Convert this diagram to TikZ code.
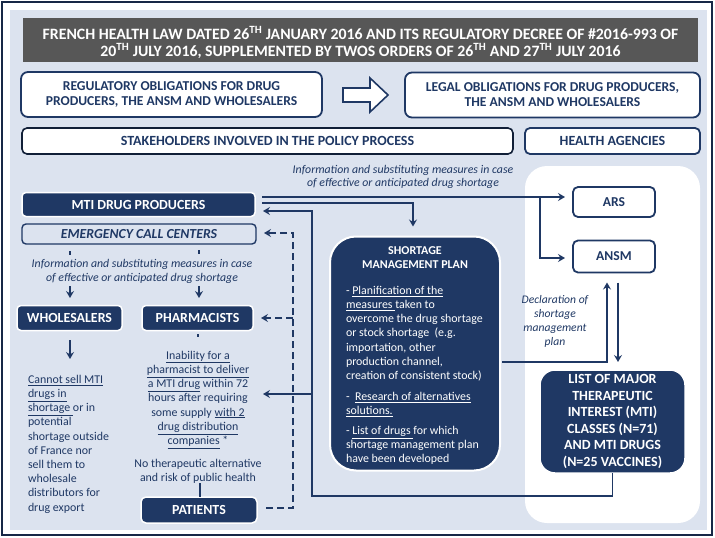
\documentclass[tikz,border=0pt]{standalone}
\usepackage{fontspec}
\setmainfont{Carlito}
\usetikzlibrary{arrows.meta,calc}
\definecolor{navy}{HTML}{1F3864}
\definecolor{bgc}{HTML}{DCE3EF}
\definecolor{tgray}{HTML}{575757}
\newcommand\myfs[2]{\fontsize{#1}{#2}\selectfont}
\begin{document}
\begin{tikzpicture}[x=1pt,y=-1pt,
  every node/.style={inner sep=0pt, outer sep=0pt},
  hdr/.style={font=\bfseries\myfs{13.6}{15}, text=navy, align=center},
  outbox/.style={draw=navy, fill=white, line width=1.8pt, rounded corners=7pt},
  darkbox/.style={fill=navy, draw=white, line width=1.5pt, rounded corners=4pt, text=white, font=\bfseries\myfs{13.9}{14}},
  conn/.style={draw=navy, line width=1.6pt, -{Stealth[length=7pt,width=8pt,inset=2.5pt]}},
  dconn/.style={conn, dash pattern=on 7pt off 4pt},
  plainl/.style={draw=navy, line width=1.6pt},
  body/.style={text=navy, font=\myfs{11.9}{14.2}},
  ital/.style={text=navy, font=\itshape\myfs{11.8}{13.5}, align=center},
]
\useasboundingbox (0,0) rectangle (715,538);
\fill[white] (0,0) rectangle (715,538);
\draw[navy!70!black, line width=1.5pt] (2,2) rectangle (712,535);
\fill[bgc] (10,10) rectangle (707,530);

% title
\node[fill=tgray, minimum width=675pt, minimum height=44pt] (title) at (360.5,40) {};
\node[text=white, align=center, font=\bfseries\myfs{15.8}{17}] (titletext) at (360.5,42.5)
  {FRENCH HEALTH LAW DATED 26\textsuperscript{TH} JANUARY 2016 AND ITS REGULATORY DECREE OF \#2016-993 OF\\
   20\textsuperscript{TH} JULY 2016, SUPPLEMENTED BY TWOS ORDERS OF 26\textsuperscript{TH} AND 27\textsuperscript{TH} JULY 2016};

% obligations
\node[outbox, hdr, minimum width=301pt, minimum height=45pt] (reg) at (171.5,94.5)
  {REGULATORY OBLIGATIONS FOR DRUG\\PRODUCERS, THE ANSM AND WHOLESALERS};
\node[outbox, hdr, minimum width=295pt, minimum height=45pt] (legal) at (552.5,95)
  {LEGAL OBLIGATIONS FOR DRUG PRODUCERS,\\THE ANSM AND WHOLESALERS};
\draw[navy, line width=1.6pt, fill=white, line join=miter]
  (343,88) -- (370,88) -- (370,78) -- (388,95) -- (370,112) -- (370,102) -- (343,102) -- cycle;

% section headers
\node[draw=navy!55!black, fill=white, line width=1.6pt, rounded corners=5pt, hdr, font=\bfseries\myfs{14}{15},
  minimum width=491pt, minimum height=26pt] (stake) at (267.5,141)
  {STAKEHOLDERS INVOLVED IN THE POLICY PROCESS};
\node[outbox, rounded corners=5pt, hdr, font=\bfseries\myfs{14}{15}, minimum width=175pt, minimum height=26pt] (health) at (612.5,141)
  {HEALTH AGENCIES};

% health agencies panel
\fill[white, rounded corners=22pt] (525,166) rectangle (700,523);

% top italic text
\node[ital] (info1) at (403,177) {Information and substituting measures in case\\of effective or anticipated drug shortage};

% left column
\node[darkbox, minimum width=233pt, minimum height=24pt] (prod) at (138.5,204.5) {MTI DRUG PRODUCERS};
\node[draw=navy, fill=bgc, line width=1.4pt, rounded corners=4pt, text=navy,
  font=\bfseries\itshape\myfs{13.8}{14}, minimum width=234pt, minimum height=20pt] (emer) at (139,234)
  {EMERGENCY CALL CENTERS};
\node[ital] (info2) at (142,271.5) {Information and substituting measures in case\\of effective or anticipated drug shortage};
\node[darkbox, minimum width=105pt, minimum height=25pt] (whole) at (69.5,318) {WHOLESALERS};
\node[darkbox, minimum width=111pt, minimum height=25pt] (pharm) at (197.5,318) {PHARMACISTS};
\node[darkbox, rounded corners=5pt, minimum width=116pt, minimum height=26pt] (pat) at (199,510) {PATIENTS};

\node[body, align=left, anchor=north west] (wtext) at (28,375)
  {\underline{Cannot sell MTI}\\\underline{drugs in}\\\underline{shortage }or in\\potential\\shortage outside\\of France nor\\sell them to\\wholesale\\distributors for\\drug export};
\node[body, align=center, anchor=north] (ptext) at (198,351)
  {\underline{Inability for a}\\\underline{pharmacist to deliver}\\\underline{a MTI drug} within 72\\hours after requiring\\some supply \underline{with 2}\\\underline{drug distribution}\\\underline{companies} *};
\node[body, align=center] (ntext) at (198,471.5)
  {No therapeutic alternative\\and risk of public health};

% shortage management plan
\node[fill=navy, draw=white, line width=2pt, rounded corners=26pt,
  minimum width=170pt, minimum height=234pt] (smp) at (415,353.5) {};
\node[text=white, font=\bfseries\myfs{12}{14}, align=center] (smph) at (415,258) {SHORTAGE\\MANAGEMENT PLAN};
\node[text=white, font=\myfs{11.9}{14.2}, align=left, anchor=north west] (smp1) at (346,286)
  {- \underline{Planification of the}\\\underline{measures }taken to\\overcome the drug shortage\\or stock shortage~ (e.g.\\importation, other\\production channel,\\creation of consistent stock)};
\node[text=white, font=\myfs{11.9}{14.2}, align=left, anchor=north west] (smp2) at (346,392)
  {-~ \underline{Research of alternatives}\\\underline{solutions.}};
\node[text=white, font=\myfs{11.9}{14.2}, align=left, anchor=north west] (smp3) at (346,426)
  {- \underline{List of drugs }for which\\shortage management plan\\have been developed};

% health agencies
\node[outbox, rounded corners=5pt, hdr, minimum width=82pt, minimum height=30pt] (ars) at (614,202) {ARS};
\node[outbox, rounded corners=5pt, hdr, minimum width=82pt, minimum height=32pt] (ansm) at (614,256.5) {ANSM};
\node[fill=navy, draw=white, line width=1.5pt, rounded corners=15pt, text=white, align=center,
  font=\bfseries\myfs{14}{16.6}, minimum width=145pt, minimum height=103pt] (list) at (612.5,421.5)
  {LIST OF MAJOR\\THERAPEUTIC\\INTEREST (MTI)\\CLASSES (N=71)\\AND MTI DRUGS\\(N=25 VACCINES)};
\node[ital, font=\itshape\myfs{11.6}{14}] (decl) at (555,321.5) {Declaration of\\shortage\\management\\plan};

% coordinates
\coordinate (j1) at (540,197);
\coordinate (j2) at (312,496);
\coordinate (j3) at (312,394);
\coordinate (p3) at (263,394);
\coordinate (j4) at (293,233);
\coordinate (j5) at (293,318);
\coordinate (t1a) at (70,251); \coordinate (t1b) at (70,255);
\coordinate (t2a) at (199,250); \coordinate (t2b) at (199,254);
\coordinate (a1a) at (70,286); \coordinate (a1b) at (70,298);
\coordinate (a2a) at (199,286); \coordinate (a2b) at (199,298);
\coordinate (w1) at (70,340); \coordinate (w2) at (70,359);
\coordinate (ph1) at (198,334); \coordinate (ph2) at (198,337);
\coordinate (n1) at (200,483);

% solid connectors
\draw[conn] ([shift={(7,-7.5)}]prod.east) -- ([shift={(-8,-5)}]ars.west);
\draw[conn] (j1) |- ([shift={(-8,1.5)}]ansm.west);
\draw[conn] ([shift={(7,-1.5)}]prod.east) -| ([shift={(-2,-10)}]smp.north);
\draw[conn] (list.south) |- (j2) |- ([shift={(8,6.5)}]prod.east);
\draw[conn] (j3) -- (p3);
\draw[conn] ([shift={(2,8.5)}]smp.east) -| ([shift={(-7,10)}]ansm.south);
\draw[conn] ([shift={(4,10)}]ansm.south) -- ([shift={(5.5,-8)}]list.north);
\draw[plainl] (t1a) -- (t1b);
\draw[plainl] (t2a) -- (t2b);
\draw[conn] (a1a) -- (a1b);
\draw[conn] (a2a) -- (a2b);
\draw[conn] (w1) -- (w2);
\draw[plainl] (ph1) -- (ph2);
\draw[plainl] (n1) -- (n1 |- pat.north);

% dashed connectors
\draw[dconn] ([shift={(9,-2)}]pat.east) -| (j4) -- ([shift={(8,-1)}]emer.east);
\draw[dconn] (j5) -- ([shift={(8,0)}]pharm.east);
\end{tikzpicture}
\end{document}
